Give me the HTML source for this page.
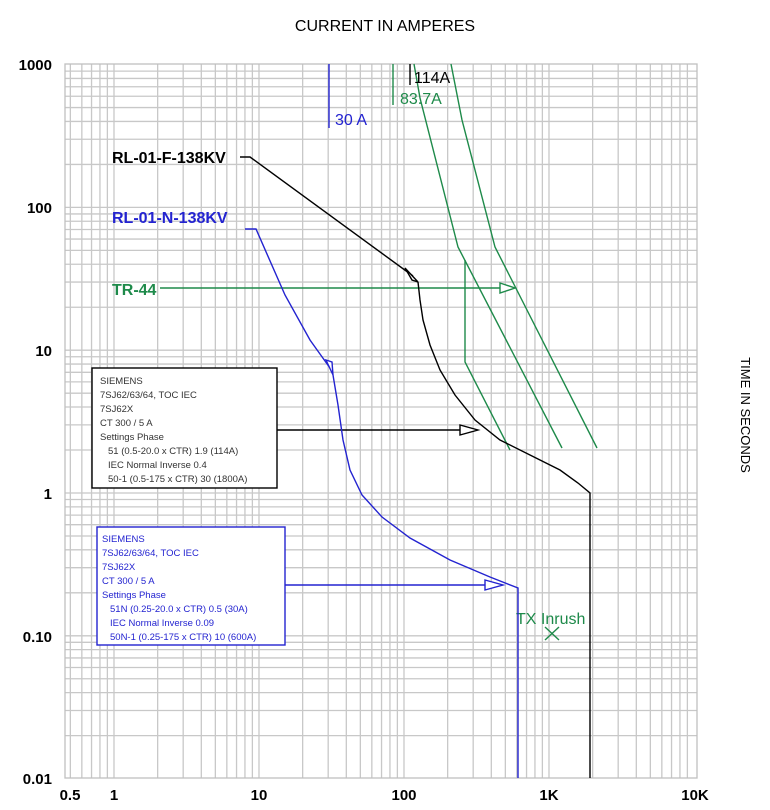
<!DOCTYPE html>
<html><head><meta charset="utf-8"><style>
html,body{margin:0;padding:0;background:#fff;}
svg{display:block;font-family:"Liberation Sans",Arial,sans-serif;}
</style></head><body>
<svg id="s" width="770" height="810" viewBox="0 0 770 810" xmlns="http://www.w3.org/2000/svg">
<rect width="770" height="810" fill="#fff"/>
<g id="grid" stroke="#c8c8c8" stroke-width="1.3"></g>
<rect x="65" y="64" width="632" height="714" fill="none" stroke="#c0c0c0" stroke-width="1.3"/>
<text x="385" y="31" font-size="16" text-anchor="middle" fill="#000">CURRENT IN AMPERES</text>
<text transform="translate(741,415) rotate(90)" font-size="13" text-anchor="middle" fill="#000">TIME IN SECONDS</text>
<g font-size="15" fill="#000" text-anchor="end" font-weight="bold">
<text x="52" y="70">1000</text><text x="52" y="213">100</text><text x="52" y="356">10</text>
<text x="52" y="499">1</text><text x="52" y="642">0.10</text><text x="52" y="784">0.01</text>
</g>
<g font-size="15" fill="#000" text-anchor="middle" font-weight="bold">
<text x="70" y="800">0.5</text><text x="114" y="800">1</text><text x="259" y="800">10</text>
<text x="404" y="800">100</text><text x="549" y="800">1K</text><text x="695" y="800">10K</text>
</g>
<!-- green -->
<g stroke="#1e8a4a" stroke-width="1.4" fill="none">
<line x1="393" y1="64" x2="393" y2="105"/>
<polyline points="414,64 420,98 458,247 562,448"/>
<polyline points="451,64 462,120 495,247 597,448"/>
<polyline points="465,260 465,362 510,450"/>
<line x1="160" y1="288" x2="505" y2="288"/>
<path d="M500,283 L515,288 L500,293 Z" fill="#fff"/>
<path d="M545,627 L559,640 M559,627 L545,640"/>
</g>
<text x="400" y="104" font-size="16" fill="#1e8a4a">83.7A</text>
<text x="112" y="295" font-size="16" fill="#1e8a4a" font-weight="bold">TR-44</text>
<text x="516" y="624" font-size="16" fill="#1e8a4a">TX Inrush</text>
<!-- black -->
<g stroke="#000" stroke-width="1.4" fill="none">
<line x1="410" y1="64" x2="410" y2="85"/>
<polyline points="240,157 250,157 413,276"/>
<path d="M405,268 L418,282 L412,280 Z" fill="#fff"/>
<polyline points="418,282 420,300 423,320 430,345 440,370 455,395 475,420 500,440 530,455 560,470 578,483 590,493 590,778"/>
<line x1="277" y1="430" x2="465" y2="430"/>
<path d="M460,425 L478,430 L460,435 Z" fill="#fff"/>
</g>
<text x="414" y="83" font-size="16" fill="#000">114A</text>
<text x="112" y="163" font-size="16" fill="#000" font-weight="bold">RL-01-F-138KV</text>
<!-- blue -->
<g stroke="#2323d0" stroke-width="1.4" fill="none">
<line x1="329" y1="64" x2="329" y2="128"/>
<polyline points="245,229 256,229 285,295 310,340 330,368"/>
<path d="M326,360 L333,375 L332,362 Z" fill="#fff"/>
<polyline points="333,375 338,405 343,440 350,470 362,495 382,517 410,538 450,560 490,577 518,588 518,778"/>
<line x1="285" y1="585" x2="490" y2="585"/>
<path d="M485,580 L503,585 L485,590 Z" fill="#fff"/>
</g>
<text x="335" y="125" font-size="16" fill="#2323d0">30 A</text>
<text x="112" y="223" font-size="16" fill="#2323d0" font-weight="bold">RL-01-N-138KV</text>
<!-- boxes -->
<rect x="92" y="368" width="185" height="120" fill="#fff" stroke="#000" stroke-width="1.4"/>
<g font-size="9.5" fill="#333">
<text x="100" y="384">SIEMENS</text><text x="100" y="398">7SJ62/63/64, TOC IEC</text>
<text x="100" y="412">7SJ62X</text><text x="100" y="426">CT 300 / 5 A</text>
<text x="100" y="440">Settings Phase</text><text x="108" y="454">51 (0.5-20.0 x CTR) 1.9 (114A)</text>
<text x="108" y="468">IEC Normal Inverse 0.4</text><text x="108" y="482">50-1 (0.5-175 x CTR) 30 (1800A)</text>
</g>
<rect x="97" y="527" width="188" height="118" fill="#fff" stroke="#2323d0" stroke-width="1.4"/>
<g font-size="9.5" fill="#2323d0">
<text x="102" y="542">SIEMENS</text><text x="102" y="556">7SJ62/63/64, TOC IEC</text>
<text x="102" y="570">7SJ62X</text><text x="102" y="584">CT 300 / 5 A</text>
<text x="102" y="598">Settings Phase</text><text x="110" y="612">51N (0.25-20.0 x CTR) 0.5 (30A)</text>
<text x="110" y="626">IEC Normal Inverse 0.09</text><text x="110" y="640">50N-1 (0.25-175 x CTR) 10 (600A)</text>
</g>
</svg>
<script>
var g=document.getElementById('grid'),ns='http://www.w3.org/2000/svg';
function ln(a,b,c,d){var l=document.createElementNS(ns,'line');l.setAttribute('x1',a);l.setAttribute('y1',b);l.setAttribute('x2',c);l.setAttribute('y2',d);g.appendChild(l);}
for(var k=-1;k<4;k++)for(var m=1;m<10;m++){var v=m*Math.pow(10,k);var x=114+145*Math.log10(v);if(x>65&&x<697)ln(x,64,x,778);}
for(var k=-2;k<3;k++)for(var m=1;m<10;m++){var v=m*Math.pow(10,k);var y=493-142.8*Math.log10(v);if(y>64&&y<778)ln(65,y,697,y);}
</script>
</body></html>
